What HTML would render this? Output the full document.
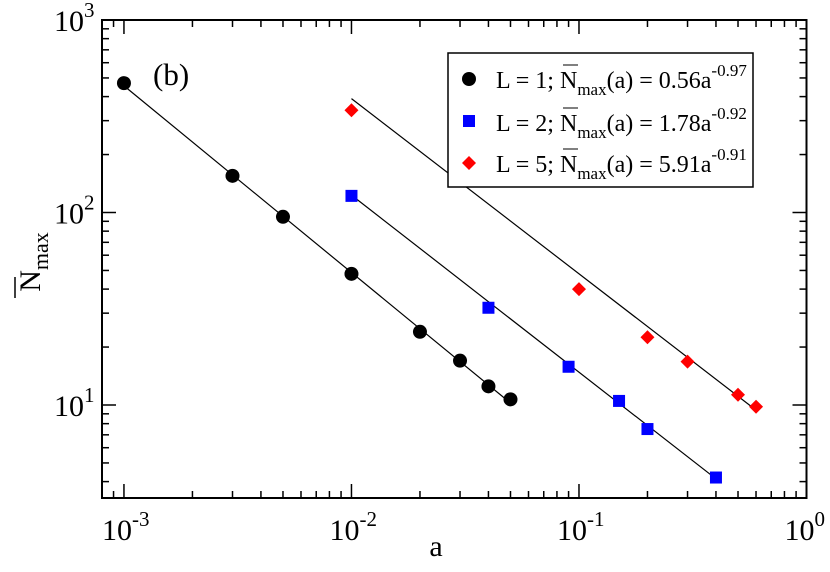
<!DOCTYPE html>
<html><head><meta charset="utf-8"><style>
body{margin:0;background:#fff;}
svg, svg text{font-family:"Liberation Serif","Times New Roman",serif;}
</style></head><body>
<svg id="chart" width="830" height="567" viewBox="0 0 830 567" xmlns="http://www.w3.org/2000/svg" font-family="Liberation Serif, serif">
<g id="ticks"></g>
<g id="lines"></g>
<g id="marks"></g>
<rect x="102" y="20" width="704.5" height="478" fill="none" stroke="#000" stroke-width="2"/>
<text x="153" y="85" font-size="31" font-family="Liberation Serif, serif">(b)</text>
<text x="436" y="556" font-size="30" text-anchor="middle" font-family="Liberation Serif, serif">a</text>
<g transform="translate(40,262) rotate(-90)">
<text x="0" y="0" font-size="30" text-anchor="middle" font-family="Liberation Serif, serif">N<tspan font-size="22" dy="8">max</tspan></text>
<line x1="-36" y1="-25" x2="-15" y2="-25" stroke="#000" stroke-width="1.5"/>
</g>
<g>
<rect x="448" y="53" width="305" height="134" fill="#fff" stroke="#000" stroke-width="1.5"/>
<circle cx="469" cy="79" r="7" fill="#000"/>
<rect x="463" y="115" width="12" height="12" fill="#0000ff"/>
<path d="M469 156 L476 163 L469 170 L462 163Z" fill="#ff0000"/>
<g font-size="24" font-family="Liberation Serif, serif">
<text x="496" y="88">L = 1; N<tspan font-size="17" dy="7">max</tspan><tspan dy="-7">(a) = 0.56a</tspan><tspan font-size="17" dy="-12">-0.97</tspan></text>
<text x="496" y="131">L = 2; N<tspan font-size="17" dy="7">max</tspan><tspan dy="-7">(a) = 1.78a</tspan><tspan font-size="17" dy="-12">-0.92</tspan></text>
<text x="496" y="172">L = 5; N<tspan font-size="17" dy="7">max</tspan><tspan dy="-7">(a) = 5.91a</tspan><tspan font-size="17" dy="-12">-0.91</tspan></text>
</g>
<g stroke="#000" stroke-width="1"><line x1="563" y1="65" x2="578" y2="65"/><line x1="563" y1="108" x2="578" y2="108"/><line x1="563" y1="149" x2="578" y2="149"/></g>
</g>
<g id="xlabels"></g>
<g id="ylabels"></g>
</svg>
<script>
const xExps=[-3,-2,-1,0];
const yExps=[1,2,3];
const aL1=[0.001,0.003,0.005,0.01,0.02,0.03,0.04,0.05];
const nL1=[470,155,95,48,24,17,12.5,10.7];
const aL2=[0.01,0.04,0.09,0.15,0.2,0.4];
const nL2=[122,32,15.8,10.5,7.5,4.2];
const aL5=[0.01,0.1,0.2,0.3,0.5,0.6];
const nL5=[340,40,22.5,16.8,11.3,9.8];
const fitCoef=[0.56,1.78,5.91];
const fitExp=[-0.97,-0.92,-0.91];

const NS="http://www.w3.org/2000/svg";
const FF="Liberation Serif, serif";
const X0=102,X1=806.5,Y0=498,Y1=20;
const xmin=-3-22/228, xmax=0, ymin=1-93/192.5, ymax=3;
function sx(v){return X0+(Math.log10(v)-xmin)/(xmax-xmin)*(X1-X0);}
function sy(v){return Y0-(Math.log10(v)-ymin)/(ymax-ymin)*(Y0-Y1);}
function mk(tag,attrs,parent){const e=document.createElementNS(NS,tag);for(const k in attrs)e.setAttribute(k,attrs[k]);parent.appendChild(e);return e;}
const T=document.getElementById('ticks');
for(let d=-4;d<=0;d++)for(let m=1;m<=9;m++){const v=m*Math.pow(10,d);const x=sx(v);if(x<X0+0.5||x>X1+0.5)continue;const L=m===1?14:7;
 const t1=mk('line',{x1:x,y1:Y0,x2:x,y2:Y0-L,stroke:'#000','stroke-width':1.5},T);
 
 
 const t2=mk('line',{x1:x,y1:Y1,x2:x,y2:Y1+L,stroke:'#000','stroke-width':1.5},T);
 
 }
for(let d=0;d<=3;d++)for(let m=1;m<=9;m++){const v=m*Math.pow(10,d);const y=sy(v);if(y>Y0+0.5||y<Y1-0.5)continue;const L=m===1?14:7;
 const t1=mk('line',{x1:X0,y1:y,x2:X0+L,y2:y,stroke:'#000','stroke-width':1.5},T);
 
 
 const t2=mk('line',{x1:X1,y1:y,x2:X1-L,y2:y,stroke:'#000','stroke-width':1.5},T);
 
 }
const XL=document.getElementById('xlabels');
xExps.forEach(e=>{const x=sx(Math.pow(10,e));const t=mk('text',{x:x-22,y:540,'font-size':30,'font-family':FF},XL);
 
 
 t.innerHTML='10<tspan font-size="21" dy="-14">'+e+'</tspan>';});
const YL=document.getElementById('ylabels');
yExps.forEach(e=>{const y=sy(Math.pow(10,e));const t=mk('text',{x:54,y:y+11,'font-size':30,'font-family':FF},YL);
 
 
 t.innerHTML='10<tspan font-size="21" dy="-14">'+e+'</tspan>';});
const LN=document.getElementById('lines');
[[aL1,0],[aL2,1],[aL5,2]].forEach(([a,i])=>{const a0=a[0],a1=a[a.length-1];const f=v=>fitCoef[i]*Math.pow(v,fitExp[i]);
 const l=mk('line',{x1:sx(a0),y1:sy(f(a0)),x2:sx(a1),y2:sy(f(a1)),stroke:'#000','stroke-width':1.2},LN);
 
 });
const M=document.getElementById('marks');
aL1.forEach((a,i)=>{const c=mk('circle',{cx:sx(a),cy:sy(nL1[i]),r:7,fill:'#000'},M);
 
 });
aL2.forEach((a,i)=>{const c=mk('rect',{x:sx(a)-6,y:sy(nL2[i])-6,width:12,height:12,fill:'#0000ff'},M);
 
 });
aL5.forEach((a,i)=>{const x=sx(a),y=sy(nL5[i]);const c=mk('path',{d:`M${x} ${y-7}L${x+7} ${y}L${x} ${y+7}L${x-7} ${y}Z`,fill:'#ff0000'},M);
 
 });
</script>
</body></html>
